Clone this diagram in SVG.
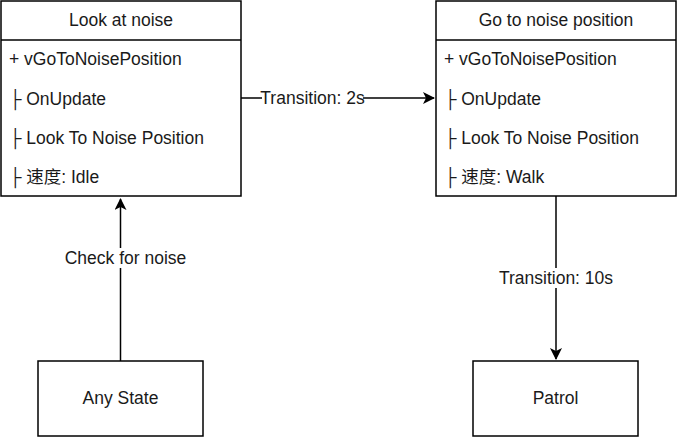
<svg xmlns="http://www.w3.org/2000/svg" width="677" height="437" viewBox="0 0 677 437">
<style>
.box{fill:#fff;stroke:#000;stroke-width:1.5}
.t{font-family:"Liberation Sans","Noto Sans CJK SC",Arial,sans-serif;font-size:17.5px;fill:#1a1a1a}
.c{text-anchor:middle}
.e{fill:none;stroke:#000;stroke-width:1.5}
.lbl{fill:#fff}
</style>
<defs>
<marker id="ah" markerWidth="12" markerHeight="12" refX="11" refY="6" orient="auto" markerUnits="userSpaceOnUse">
<path d="M0,0 L12,6 L0,12 L3,6 Z" fill="#000"/>
</marker>
</defs>
<rect width="677" height="437" fill="#fff"/>
<g id="connectors">
<path class="e" d="M241,98 L434,98" marker-end="url(#ah)"/>
<rect class="lbl" x="262" y="89" width="101" height="19"/>
<text class="t c" x="312.5" y="104">Transition: 2s</text>
<path class="e" d="M120.5,361 L120.5,199" marker-end="url(#ah)"/>
<rect class="lbl" x="66" y="248" width="120" height="20"/>
<text class="t c" x="125.5" y="264">Check for noise</text>
<path class="e" d="M556,196 L556,359" marker-end="url(#ah)"/>
<rect class="lbl" x="500" y="268" width="112" height="20"/>
<text class="t c" x="556" y="284">Transition: 10s</text>
</g>
<g id="look-at-noise">
<rect class="box" x="1" y="1" width="240" height="195"/>
<line class="e" x1="1" y1="40" x2="241" y2="40"/>
<text class="t c" x="121" y="26">Look at noise</text>
<text class="t" x="9" y="65">+ vGoToNoisePosition</text>
<text class="t" x="9" y="105">├ OnUpdate</text>
<text class="t" x="9" y="144">├ Look To Noise Position</text>
<text class="t" x="9" y="183">├ 速度: Idle</text>
</g>
<g id="go-to-noise-position">
<rect class="box" x="436" y="1" width="240" height="195"/>
<line class="e" x1="436" y1="40" x2="676" y2="40"/>
<text class="t c" x="556" y="26">Go to noise position</text>
<text class="t" x="444" y="65">+ vGoToNoisePosition</text>
<text class="t" x="444" y="105">├ OnUpdate</text>
<text class="t" x="444" y="144">├ Look To Noise Position</text>
<text class="t" x="444" y="183">├ 速度: Walk</text>
</g>
<g id="any-state">
<rect class="box" x="38" y="361" width="165" height="75"/>
<text class="t c" x="120.5" y="404">Any State</text>
</g>
<g id="patrol">
<rect class="box" x="473" y="361" width="165" height="75"/>
<text class="t c" x="555.5" y="404">Patrol</text>
</g>
</svg>
